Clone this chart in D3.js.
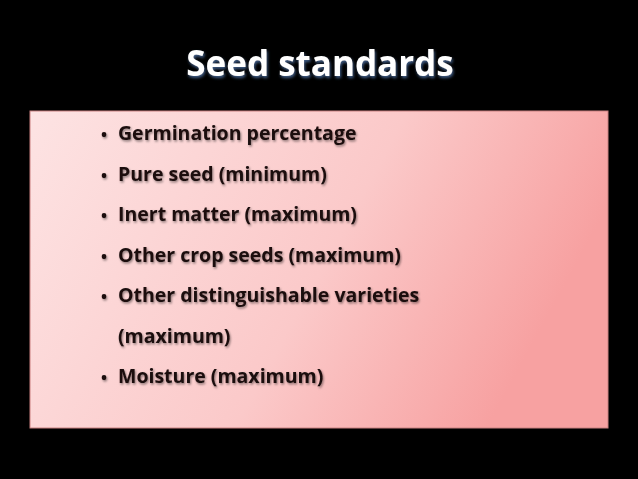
<!DOCTYPE html>
<html><head><meta charset="utf-8">
<script src="https://cdn.jsdelivr.net/npm/d3@7"></script>
<style>body{margin:0;background:#000}</style></head>
<body><svg id="s" width="638" height="479"></svg>
<script>
const title = "Seed standards";
const bullets = [
  {text: "Germination percentage", bullet: true},
  {text: "Pure seed (minimum)", bullet: true},
  {text: "Inert matter (maximum)", bullet: true},
  {text: "Other crop seeds (maximum)", bullet: true},
  {text: "Other distinguishable varieties", bullet: true},
  {text: "(maximum)", bullet: false},
  {text: "Moisture (maximum)", bullet: true}
];

const svg = d3.select("#s");
const defs = svg.append("defs");
const g = defs.append("linearGradient").attr("id", "pink")
  .attr("x1", "0").attr("y1", "0").attr("x2", "1").attr("y2", "0.3");
g.append("stop").attr("offset", "0").attr("stop-color", "#fde3e3");
g.append("stop").attr("offset", "0.6").attr("stop-color", "#fbc9c9");
g.append("stop").attr("offset", "1").attr("stop-color", "#f7a1a1");

const glow = defs.append("filter").attr("id", "glow").attr("x", "-10%").attr("y", "-30%").attr("width", "120%").attr("height", "160%");
glow.append("feDropShadow").attr("dx", 1).attr("dy", 2).attr("stdDeviation", 1.5).attr("flood-color", "#4a6a9a").attr("flood-opacity", 0.9);
const shad = defs.append("filter").attr("id", "shad");
shad.append("feDropShadow").attr("dx", 1).attr("dy", 1.5).attr("stdDeviation", 0.8).attr("flood-color", "#000").attr("flood-opacity", 0.45);

svg.append("rect").attr("width", 638).attr("height", 479).attr("fill", "#000");
svg.append("rect").attr("x", 30).attr("y", 111).attr("width", 578).attr("height", 317)
  .attr("fill", "url(#pink)").attr("stroke", "#c98080").attr("stroke-width", 1);

svg.append("text").attr("x", 320).attr("y", 76).attr("text-anchor", "middle")
  .attr("font-family", "'Open Sans', sans-serif").attr("font-weight", "bold").attr("font-size", 35)
  .attr("fill", "#fff").attr("filter", "url(#glow)").text(title);

const y = d3.scaleLinear().domain([0, bullets.length - 1]).range([140, 383]);
const rows = svg.append("g").attr("font-family", "'Open Sans', sans-serif").attr("font-weight", "bold")
  .attr("fill", "#1a0d0d").attr("filter", "url(#shad)");
rows.selectAll("text.b").data(bullets.filter(d => d.bullet)).join("text")
  .attr("x", 101).attr("y", d => y(bullets.indexOf(d))).attr("font-size", 16).text("•");
rows.selectAll("text.t").data(bullets).join("text")
  .attr("x", 118).attr("y", (d, i) => y(i)).attr("font-size", 19.5).text(d => d.text);
</script></body></html>
